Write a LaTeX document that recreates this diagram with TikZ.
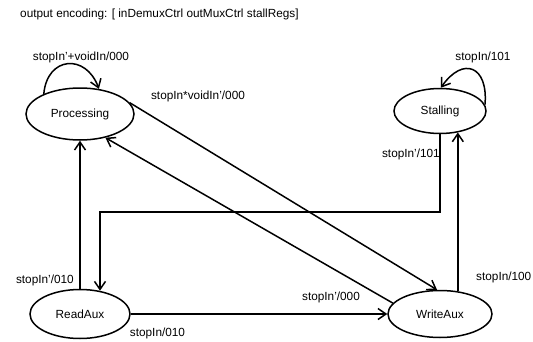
\documentclass[tikz,border=0pt]{standalone}
\usepackage{fontspec}
\setmainfont{Liberation Sans}
\usetikzlibrary{arrows.meta,shapes.geometric}
\newcommand{\fsmfont}{\fontsize{11.8}{14}\selectfont}

\begin{document}
\begin{tikzpicture}[
  x=1pt, y=1pt,
  state/.style={ellipse, draw, line width=1.5pt, inner sep=0pt, font=\fsmfont},
  arrow/.style={-{Straight Barb[length=8pt,width=11pt]}, line width=1.5pt},
  label/.style={font=\fsmfont, inner sep=0pt, anchor=base},
]
\useasboundingbox (0,0) rectangle (533,341);

% Title
\node[label, anchor=base west] (title) at (20,323.5) {output encoding: [ inDemuxCtrl outMuxCtrl stallRegs]};

% States
\node[state, minimum width=108pt, minimum height=52pt] (Processing) at (80,227) {Processing};
\node[state, minimum width=92pt, minimum height=45pt] (Stalling) at (440,230) {Stalling};
\node[state, minimum width=100pt, minimum height=49pt] (ReadAux) at (80,27) {ReadAux};
\node[state, minimum width=104pt, minimum height=47pt] (WriteAux) at (440,27) {WriteAux};

% Self loops
\draw[arrow] (Processing.151) to[out=85, in=110, looseness=1.75] (Processing.53);
\draw[arrow] (Stalling.8) to[out=85, in=55, looseness=2.1] (Stalling.88);

% Processing <-> WriteAux
\draw[arrow] (Processing.13) -- (WriteAux.97);
\draw[arrow] (WriteAux.167) -- (Processing.-43);

% ReadAux paths
\draw[arrow] (ReadAux) -- (Processing);
\draw[arrow] (ReadAux) -- (WriteAux);

% Stalling -> ReadAux
\coordinate (bend) at (100,129);
\draw[arrow] (Stalling.south) |- (bend) -- (bend |- ReadAux.50);

% WriteAux -> Stalling
\draw[arrow] (WriteAux.52) -- (WriteAux.52 |- Stalling.-50);

% Labels
\node[label] (lblProc) at (81,280.5) {stopIn'+voidIn/000};
\node[label] (lblPW) at (198,241.5) {stopIn*voidIn'/000};
\node[label] (lblStall) at (483,280) {stopIn/101};
\node[label, anchor=base east] (lblSR) at (440,183.5) {stopIn'/101};
\node[label, anchor=base east] (lblRP) at (74,58) {stopIn'/010};
\node[label] (lblRW) at (157.5,4.5) {stopIn/010};
\node[label] (lblWP) at (331,40.5) {stopIn'/000};
\node[label, anchor=base west] (lblWS) at (476,60.5) {stopIn/100};

\end{tikzpicture}
\end{document}
